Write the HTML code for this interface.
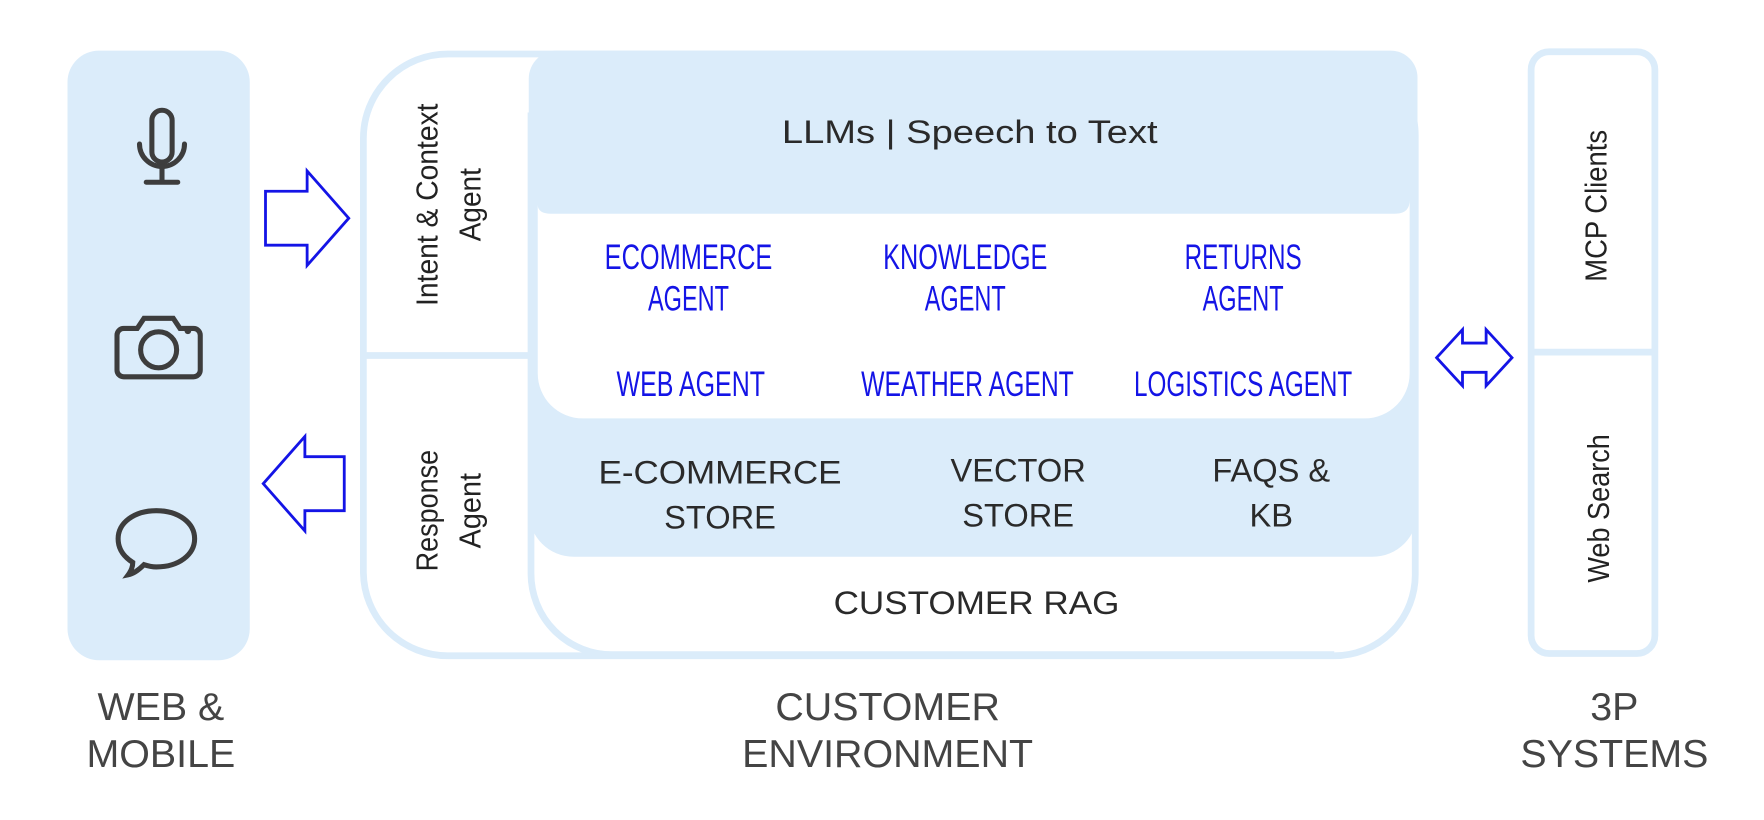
<!DOCTYPE html>
<html><head><meta charset="utf-8"><style>
html,body{margin:0;padding:0;background:#fff;}
svg{display:block;}
.d{font-family:"Liberation Sans",sans-serif;fill:#2a2a2a;}
.a{font-family:"Liberation Sans",sans-serif;fill:#1414e6;font-size:31px;}
.n{font-family:"Liberation Sans",sans-serif;fill:#222;font-size:27px;}
</style></head><body>
<svg width="1764" height="820" viewBox="0 0 1568 729" preserveAspectRatio="none" xmlns="http://www.w3.org/2000/svg">
<rect width="1568" height="729" fill="#fff"/>
<rect x="60" y="45" width="162" height="542" rx="28" fill="#dbecfa"/>
<g fill="none" stroke="#3d3d3d" stroke-width="4.5" stroke-linecap="round">
<rect x="135" y="98" width="18" height="46" rx="9"/>
<path d="M124 128 a20 20 0 0 0 40 0"/>
<path d="M144 148 v14 M130 162 h28"/>
<path d="M110 292 h12 l6 -9 h26 l6 9 h12 a6 6 0 0 1 6 6 v31 a6 6 0 0 1 -6 6 h-62 a6 6 0 0 1 -6 -6 v-31 a6 6 0 0 1 6 -6z"/>
<circle cx="141" cy="311" r="16"/>
<path d="M139 454 c20 0 34 11 34 25 c0 14 -14 25 -34 25 c-4 0 -8 -1 -11 -2 c-4 4 -9 8 -14 9 c3 -4 4 -8 4 -11 c-8 -5 -13 -12 -13 -21 c0 -14 14 -25 34 -25z"/>
</g>
<circle cx="167" cy="294" r="3" fill="#3d3d3d"/>
<path d="M236 170 h37 v-18 l37 42 l-37 42 v-18 h-37z" fill="#fff" stroke="#1414e6" stroke-width="2.5"/>
<path d="M306 406 h-35 v-18 l-37 42 l37 42 v-18 h35z" fill="#fff" stroke="#1414e6" stroke-width="2.5"/>
<path d="M398 48 H1186 A72 72 0 0 1 1258 120 V510 A72 72 0 0 1 1186 583 H398 A75 75 0 0 1 323 509 V123 A75 75 0 0 1 398 48 Z" fill="#fff" stroke="#dbecfa" stroke-width="6"/>
<line x1="323" y1="316" x2="472" y2="316" stroke="#dbecfa" stroke-width="6"/>
<path d="M472 100 V510 A72 72 0 0 0 544 582 H1186" fill="none" stroke="#dbecfa" stroke-width="6"/>
<path d="M495 45 H1236 A24 24 0 0 1 1260 69 V455 A40 40 0 0 1 1220 495 H510 A40 40 0 0 1 470 455 V70 A25 25 0 0 1 495 45 Z" fill="#dbecfa"/>
<path d="M478 182 Q478 190 490 190 H1240 Q1253 190 1253 178 V332 A40 40 0 0 1 1213 372 H518 A40 40 0 0 1 478 332 Z" fill="#fff"/>
<text x="862" y="127" text-anchor="middle" class="d" font-size="29" textLength="334" lengthAdjust="spacingAndGlyphs">LLMs | Speech to Text</text>
<g class="a" text-anchor="middle">
<text x="612" y="239" textLength="149" lengthAdjust="spacingAndGlyphs">ECOMMERCE</text><text x="612" y="276" textLength="72" lengthAdjust="spacingAndGlyphs">AGENT</text>
<text x="858" y="239" textLength="146" lengthAdjust="spacingAndGlyphs">KNOWLEDGE</text><text x="858" y="276" textLength="72" lengthAdjust="spacingAndGlyphs">AGENT</text>
<text x="1105" y="239" textLength="104" lengthAdjust="spacingAndGlyphs">RETURNS</text><text x="1105" y="276" textLength="72" lengthAdjust="spacingAndGlyphs">AGENT</text>
<text x="614" y="352" textLength="132" lengthAdjust="spacingAndGlyphs">WEB AGENT</text>
<text x="860" y="352" textLength="189" lengthAdjust="spacingAndGlyphs">WEATHER AGENT</text>
<text x="1105" y="352" textLength="194" lengthAdjust="spacingAndGlyphs">LOGISTICS AGENT</text>
</g>
<g class="d" font-size="29" text-anchor="middle">
<text x="640" y="430" textLength="216" lengthAdjust="spacingAndGlyphs">E-COMMERCE</text><text x="640" y="470">STORE</text>
<text x="905" y="428">VECTOR</text><text x="905" y="468">STORE</text>
<text x="1130" y="428">FAQS &amp;</text><text x="1130" y="468">KB</text>
<text x="868" y="546" textLength="254" lengthAdjust="spacingAndGlyphs">CUSTOMER RAG</text>
</g>
<text class="n" text-anchor="middle" transform="translate(389,182) rotate(-90)" textLength="180" lengthAdjust="spacingAndGlyphs">Intent &amp; Context</text>
<text class="n" text-anchor="middle" transform="translate(427,182) rotate(-90)" textLength="65" lengthAdjust="spacingAndGlyphs">Agent</text>
<text class="n" text-anchor="middle" transform="translate(389,454) rotate(-90)" textLength="108" lengthAdjust="spacingAndGlyphs">Response</text>
<text class="n" text-anchor="middle" transform="translate(427,454) rotate(-90)" textLength="67" lengthAdjust="spacingAndGlyphs">Agent</text>
<path d="M1277 318 l23 -25 v12 h21 v-12 l23 25 l-23 25 v-12 h-21 v12z" fill="#fff" stroke="#1414e6" stroke-width="2.5"/>
<rect x="1361" y="46" width="110" height="535" rx="16" fill="#fff" stroke="#dbecfa" stroke-width="6"/>
<line x1="1361" y1="313" x2="1471" y2="313" stroke="#dbecfa" stroke-width="6"/>
<text class="n" text-anchor="middle" transform="translate(1428,183) rotate(-90)" textLength="135" lengthAdjust="spacingAndGlyphs">MCP Clients</text>
<text class="n" text-anchor="middle" transform="translate(1430,452) rotate(-90)" textLength="132" lengthAdjust="spacingAndGlyphs">Web Search</text>
<g class="d" font-size="35" text-anchor="middle" style="fill:#444">
<text x="143" y="640">WEB &amp;</text><text x="143" y="682">MOBILE</text>
<text x="789" y="640">CUSTOMER</text><text x="789" y="682">ENVIRONMENT</text>
<text x="1435" y="640">3P</text><text x="1435" y="682">SYSTEMS</text>
</g>
</svg>
</body></html>
